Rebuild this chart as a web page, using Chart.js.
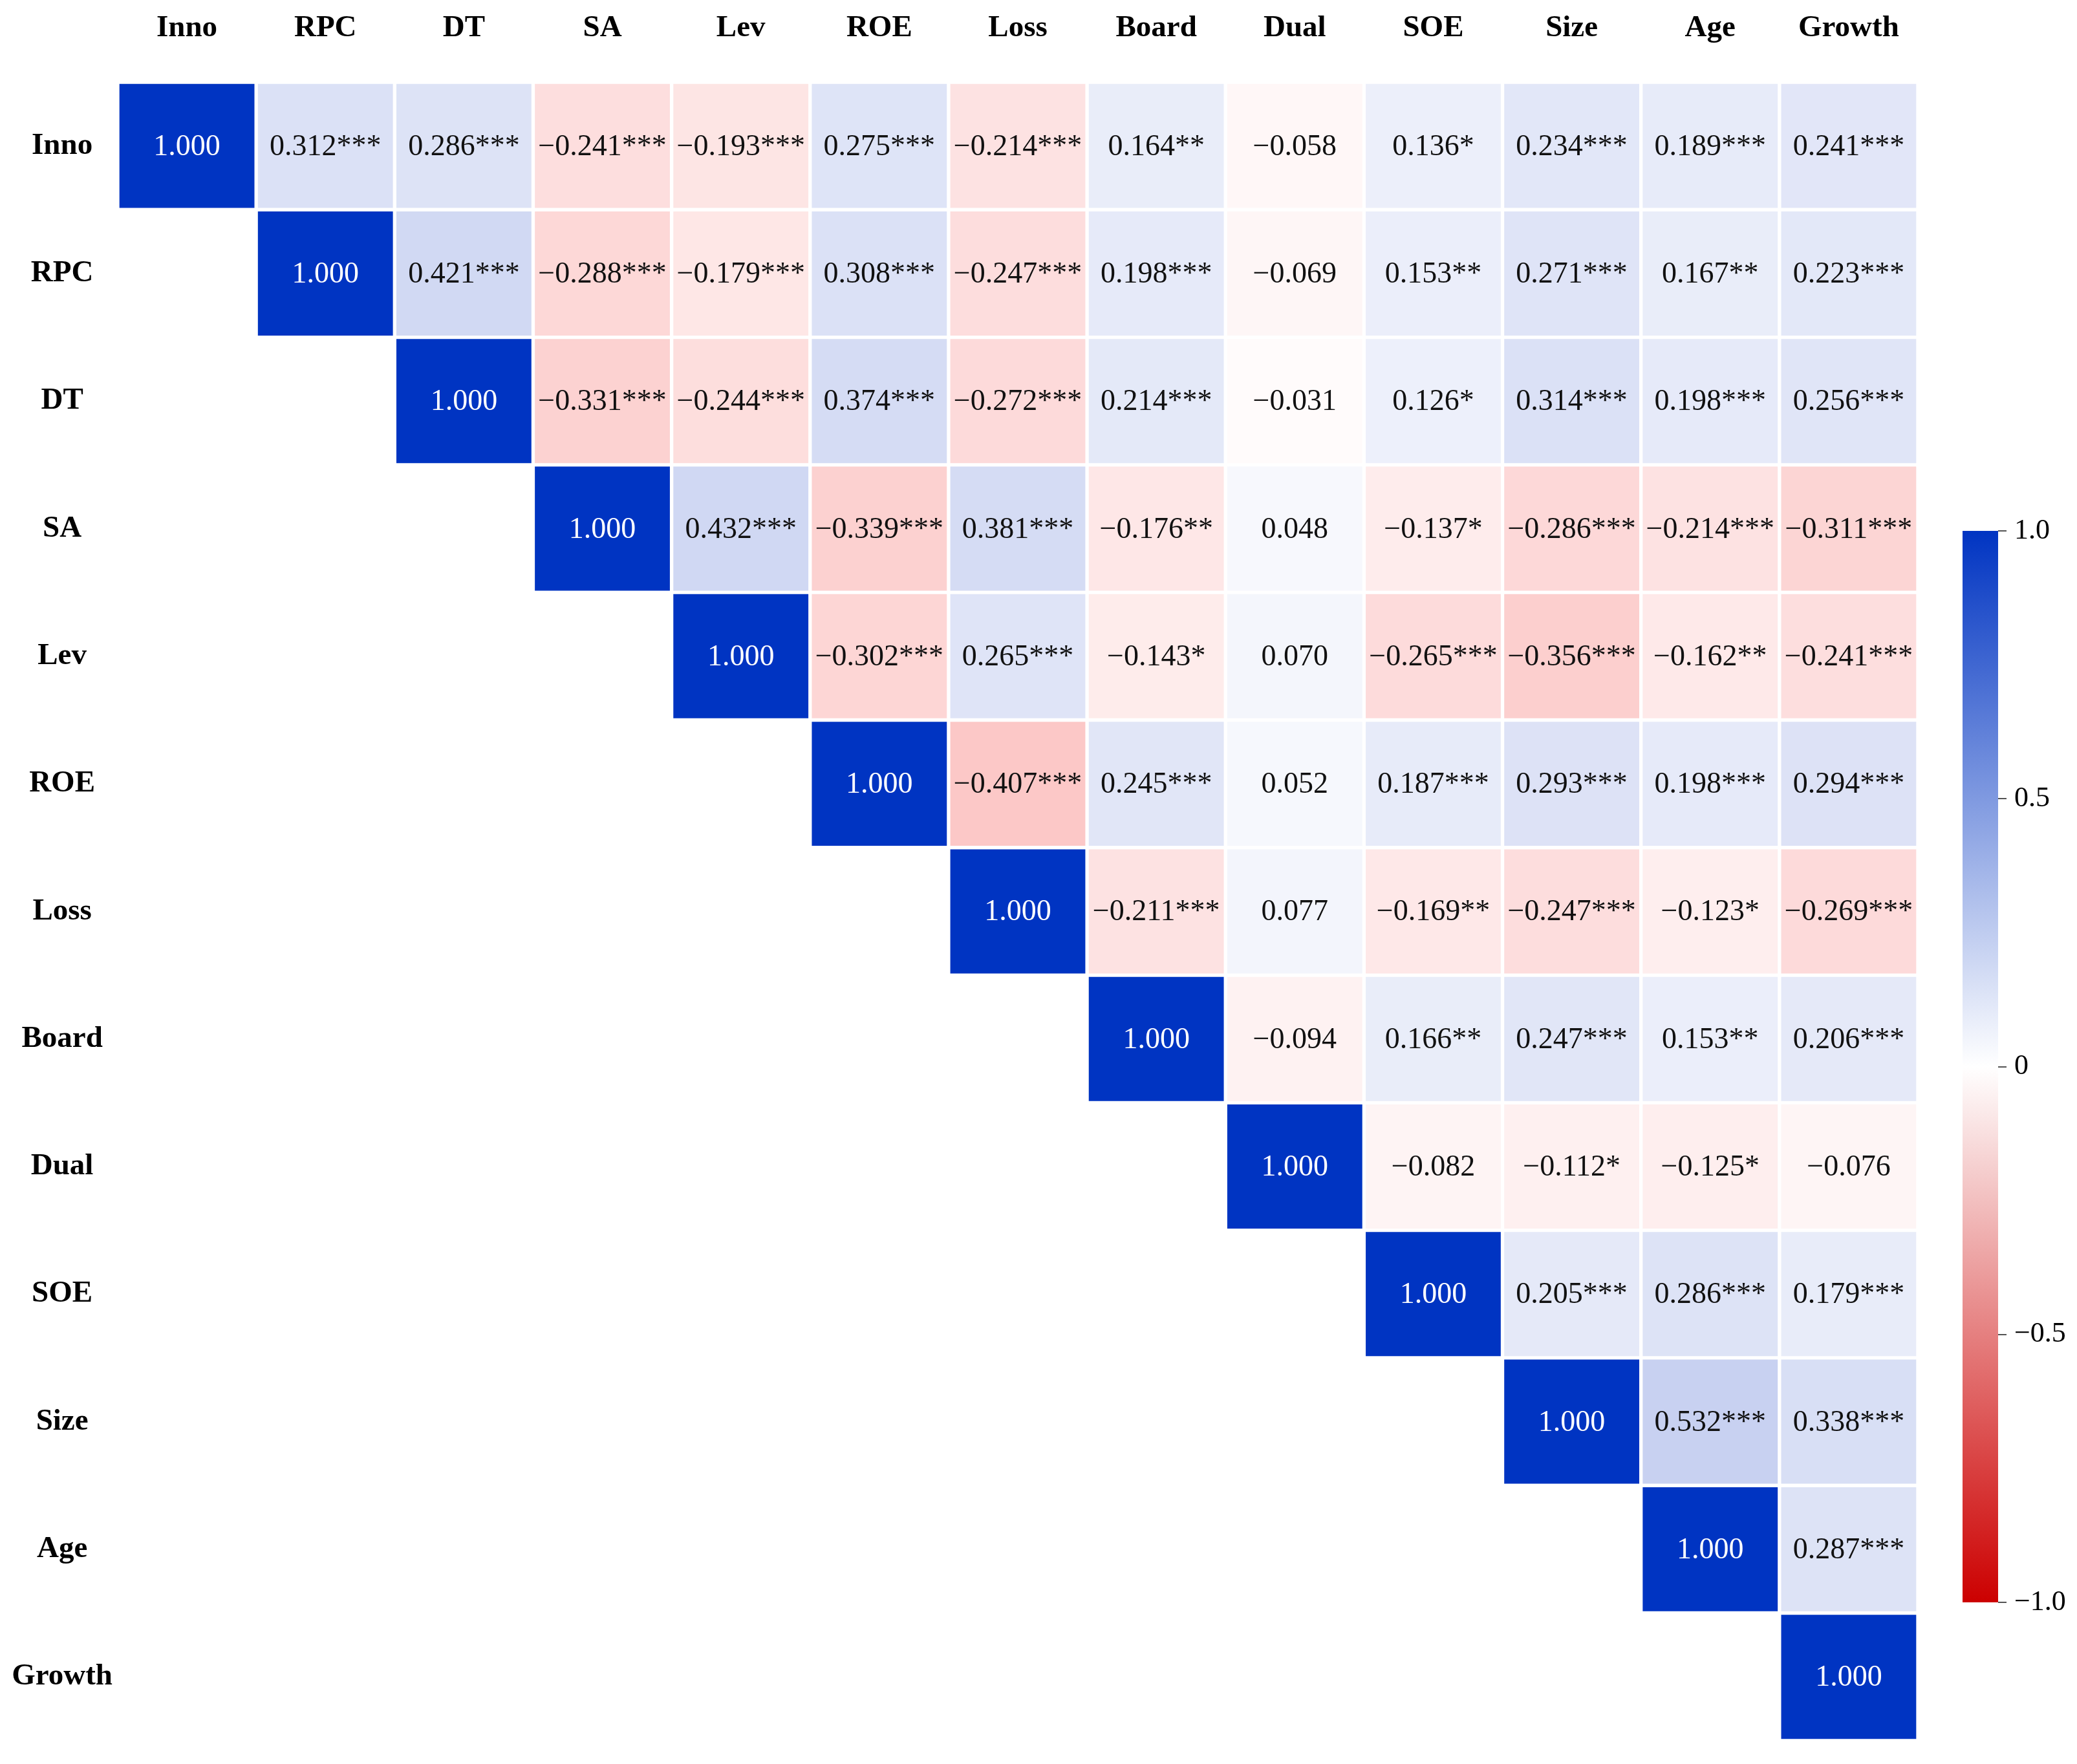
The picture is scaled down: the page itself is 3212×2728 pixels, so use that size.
<!DOCTYPE html>
<html><head><meta charset="utf-8">
<script src="https://cdn.jsdelivr.net/npm/chart.js@4.4.1/dist/chart.umd.min.js"></script>
<style>
html,body{margin:0;padding:0;background:#fff;}
#wrap{position:relative;width:3212px;height:2728px;background:#fff;}
#main{position:absolute;left:0;top:0;width:3212px;height:2728px;}
#cbar{position:absolute;left:2990px;top:780px;width:222px;height:1750px;}
</style></head><body>
<div id="wrap">
<canvas id="main" width="3212" height="2728"></canvas>
<canvas id="cbar" width="222" height="1750"></canvas>
</div>
<script>
// Variables (row / column categories)
const variables = ['Inno','RPC','DT','SA','Lev','ROE','Loss','Board','Dual','SOE','Size','Age','Growth'];

// Upper-triangle correlations, each row starts at the diagonal
const rInno   = [1.000, 0.312, 0.286, -0.241, -0.193, 0.275, -0.214, 0.164, -0.058, 0.136, 0.234, 0.189, 0.241];
const rRPC    = [1.000, 0.421, -0.288, -0.179, 0.308, -0.247, 0.198, -0.069, 0.153, 0.271, 0.167, 0.223];
const rDT     = [1.000, -0.331, -0.244, 0.374, -0.272, 0.214, -0.031, 0.126, 0.314, 0.198, 0.256];
const rSA     = [1.000, 0.432, -0.339, 0.381, -0.176, 0.048, -0.137, -0.286, -0.214, -0.311];
const rLev    = [1.000, -0.302, 0.265, -0.143, 0.070, -0.265, -0.356, -0.162, -0.241];
const rROE    = [1.000, -0.407, 0.245, 0.052, 0.187, 0.293, 0.198, 0.294];
const rLoss   = [1.000, -0.211, 0.077, -0.169, -0.247, -0.123, -0.269];
const rBoard  = [1.000, -0.094, 0.166, 0.247, 0.153, 0.206];
const rDual   = [1.000, -0.082, -0.112, -0.125, -0.076];
const rSOE    = [1.000, 0.205, 0.286, 0.179];
const rSize   = [1.000, 0.532, 0.338];
const rAge    = [1.000, 0.287];
const rGrowth = [1.000];

// Significance stars, same layout
const sInno   = ['', '***', '***', '***', '***', '***', '***', '**', '', '*', '***', '***', '***'];
const sRPC    = ['', '***', '***', '***', '***', '***', '***', '', '**', '***', '**', '***'];
const sDT     = ['', '***', '***', '***', '***', '***', '', '*', '***', '***', '***'];
const sSA     = ['', '***', '***', '***', '**', '', '*', '***', '***', '***'];
const sLev    = ['', '***', '***', '*', '', '***', '***', '**', '***'];
const sROE    = ['', '***', '***', '', '***', '***', '***', '***'];
const sLoss   = ['', '***', '', '**', '***', '*', '***'];
const sBoard  = ['', '', '**', '***', '**', '***'];
const sDual   = ['', '', '*', '*', ''];
const sSOE    = ['', '***', '***', '***'];
const sSize   = ['', '***', '***'];
const sAge    = ['', '***'];
const sGrowth = [''];

// Colour bar
const colorbarRange = [-1, 1];
const colorbarTicks = [-1, -0.5, 0, 0.5, 1];

const rowValues = [rInno, rRPC, rDT, rSA, rLev, rROE, rLoss, rBoard, rDual, rSOE, rSize, rAge, rGrowth];
const rowStars  = [sInno, sRPC, sDT, sSA, sLev, sROE, sLoss, sBoard, sDual, sSOE, sSize, sAge, sGrowth];

const POS = [0, 52, 194], NEG = [204, 0, 0];          // colour-bar / diagonal extremes
const CELL_POS = [0, 42, 190], CELL_NEG = [240, 8, 5]; // off-diagonal tint targets
function mix(c, t) {
  return 'rgb(' + c.map(ch => Math.round(255 + (ch - 255) * t)).join(',') + ')';
}
function cellColor(v) {
  const a = Math.abs(v);
  if (a >= 0.999) return mix(v >= 0 ? POS : NEG, 1);
  if (v >= 0) return mix(CELL_POS, 0.36 * Math.pow(a, 0.8));
  return mix(CELL_NEG, 0.55 * a);
}
function fmtVal(v) {
  return (v < 0 ? '\u2212' : '') + Math.abs(v).toFixed(3);
}
function valueAt(i, j) { return rowValues[i][j - i]; }
function starsAt(i, j) { return rowStars[i][j - i]; }

const FONT = 'Liberation Serif';
const n = variables.length;

const datasets = variables.map((col, j) => ({
  label: col,
  data: variables.map((_, i) => (j >= i ? [j, j + 1] : null)),
  backgroundColor: variables.map((_, i) => (j >= i ? cellColor(valueAt(i, j)) : 'rgba(0,0,0,0)')),
  borderColor: '#ffffff',
  borderWidth: 3,
  borderSkipped: false,
  grouped: false,
  barPercentage: 1,
  categoryPercentage: 1
}));

const cellText = {
  id: 'cellText',
  afterDatasetsDraw(chart) {
    const ctx = chart.ctx;
    ctx.save();
    ctx.textAlign = 'center';
    ctx.textBaseline = 'middle';
    ctx.font = '46px "' + FONT + '"';
    chart.data.datasets.forEach((ds, j) => {
      const meta = chart.getDatasetMeta(j);
      meta.data.forEach((el, i) => {
        if (j < i) return;
        const v = valueAt(i, j);
        const p = el.getCenterPoint();
        ctx.fillStyle = (i === j) ? '#ffffff' : '#111111';
        ctx.fillText(fmtVal(v) + starsAt(i, j), p.x, p.y + 2);
      });
    });
    ctx.restore();
  }
};

new Chart(document.getElementById('main'), {
  type: 'bar',
  data: { labels: variables, datasets },
  plugins: [cellText],
  options: {
    responsive: false,
    devicePixelRatio: 1,
    animation: false,
    indexAxis: 'y',
    layout: { padding: { left: 0, top: 0, right: 246, bottom: 8 } },
    plugins: { legend: { display: false }, tooltip: { enabled: false } },
    scales: {
      x: {
        type: 'linear', position: 'top', min: 0, max: n,
        grid: { display: false, drawTicks: false },
        border: { display: false },
        afterBuildTicks: s => { s.ticks = variables.map((_, i) => ({ value: i + 0.5 })); },
        afterFit: s => { s.height = 127; },
        ticks: {
          autoSkip: false, maxRotation: 0, padding: 55, color: '#000',
          font: { family: FONT, size: 47, weight: 'bold' },
          callback: (v, i) => variables[i]
        }
      },
      y: {
        type: 'category', offset: true,
        grid: { display: false, drawTicks: false },
        border: { display: false },
        afterFit: s => { s.width = 182; },
        ticks: {
          crossAlign: 'center', padding: 8, color: '#000',
          font: { family: FONT, size: 47, weight: 'bold' }
        }
      }
    }
  }
});

function fmtTick(v) {
  if (v === 0) return '0';
  return (v < 0 ? '\u2212' : '') + Math.abs(v).toFixed(1);
}

new Chart(document.getElementById('cbar'), {
  type: 'bar',
  data: {
    labels: [''],
    datasets: [{
      data: [colorbarRange],
      backgroundColor: (c) => {
        const ch = c.chart;
        const a = ch.chartArea;
        if (!a) return '#ffffff';
        const ys = ch.scales.y;
        const g = ch.ctx.createLinearGradient(0, ys.getPixelForValue(colorbarRange[1]), 0, ys.getPixelForValue(colorbarRange[0]));
        g.addColorStop(0, mix(POS, 1));
        g.addColorStop(0.5, '#ffffff');
        g.addColorStop(1, mix(NEG, 1));
        return g;
      },
      borderWidth: 0,
      barPercentage: 1,
      categoryPercentage: 1
    }]
  },
  options: {
    responsive: false,
    devicePixelRatio: 1,
    animation: false,
    layout: { padding: { left: 45, top: 41, right: 0, bottom: 52 } },
    plugins: { legend: { display: false }, tooltip: { enabled: false } },
    scales: {
      x: { display: false },
      y: {
        position: 'right', min: colorbarRange[0], max: colorbarRange[1],
        afterBuildTicks: s => { s.ticks = colorbarTicks.map(v => ({ value: v })); },
        afterFit: s => { s.width = 122; },
        grid: { drawOnChartArea: false, drawTicks: true, tickLength: 13, color: '#555', lineWidth: 2 },
        border: { display: false },
        ticks: {
          padding: 12, color: '#000',
          font: { family: FONT, size: 44 },
          callback: v => fmtTick(v)
        }
      }
    }
  }
});
</script>
</body></html>
